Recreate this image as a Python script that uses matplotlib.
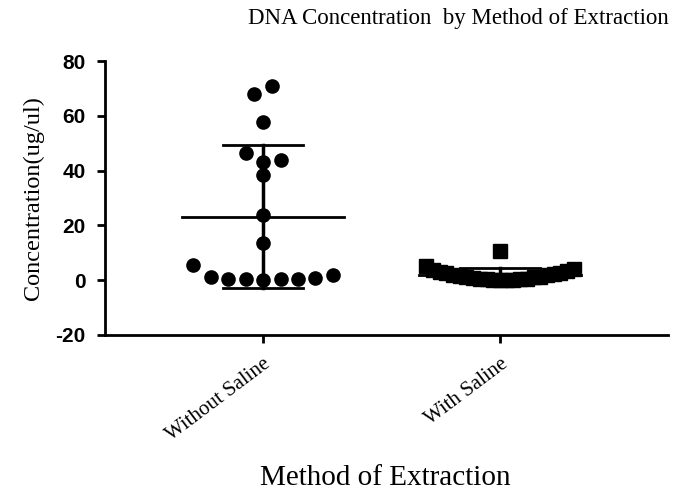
import numpy as np
import matplotlib
matplotlib.use("Agg")
import matplotlib.pyplot as plt

categories = ["Without Saline", "With Saline"]
without_saline = [70.7, 68.1, 57.9, 46.6, 43.0, 43.9, 38.4, 23.8, 13.6,
                  5.4, 1.3, 0.4, 0.3, 0.2, 0.3, 0.3, 0.7, 1.9]
with_saline = [10.5, 5.2, 4.0, 3.6, 3.0, 2.5, 2.2, 2.0, 1.8, 1.5, 1.3, 1.0,
               0.8, 0.6, 0.4, 0.3, 0.2, 0.1, 0.0, 0.0, 0.5, 1.2, 2.8, 3.3]
yticks = [-20, 0, 20, 40, 60, 80]

serif = ["Liberation Serif", "DejaVu Serif"]
sans = ["Liberation Sans", "DejaVu Sans"]


def row_offsets(values, binwidth, step):
    values = np.asarray(values, dtype=float)
    offs = np.zeros(len(values))
    bins = np.floor(values / binwidth).astype(int)
    for b in np.unique(bins):
        idx = np.where(bins == b)[0]
        idx = idx[np.argsort(values[idx], kind="stable")]
        n = len(idx)
        slots = []
        if n % 2 == 1:
            slots.append(0.0)
            k = 1
            while len(slots) < n:
                slots += [k, -k]
                k += 1
        else:
            k = 0.5
            while len(slots) < n:
                slots += [-k, k]
                k += 1
        for s, i in zip(slots[:n], idx):
            offs[i] = s * step
    return offs


fig = plt.figure(figsize=(6.79, 4.96), dpi=100)
ax = fig.add_axes([0.1546, 0.3246, 0.9838 - 0.1546, 0.877 - 0.3246])

groups = [without_saline, with_saline]
markers = ["o", "s"]
sizes = [9.5, 10.5]
steps = [0.0738, 0.0283]
for i, (vals, mk, ms, st) in enumerate(zip(groups, markers, sizes, steps)):
    vals = np.asarray(vals)
    xs = i + row_offsets(vals, 6.0, st)
    ax.plot(xs, vals, linestyle="none", marker=mk, markersize=ms,
            color="black", zorder=3)
    m = vals.mean()
    sd = vals.std(ddof=1)
    ax.plot([i - 0.34, i + 0.34], [m, m], color="black", lw=2, zorder=4)
    ax.plot([i - 0.17, i + 0.17], [m + sd, m + sd], color="black", lw=2, zorder=4)
    ax.plot([i - 0.17, i + 0.17], [m - sd, m - sd], color="black", lw=2, zorder=4)
    ax.plot([i, i], [m - sd, m + sd], color="black", lw=2.5, zorder=4)

ax.set_xlim(-0.667, 1.709)
ax.set_ylim(-20, 80)
ax.set_yticks(yticks)
ax.set_yticklabels([str(v) for v in yticks], fontfamily=sans, fontweight="bold",
                   fontsize=15)
ax.set_xticks(range(len(categories)))
ax.set_xticklabels(categories, fontfamily=serif, fontsize=15, rotation=37,
                   ha="right", rotation_mode="anchor")
for sp in ["top", "right"]:
    ax.spines[sp].set_visible(False)
for sp in ["left", "bottom"]:
    ax.spines[sp].set_linewidth(2)
ax.tick_params(axis="both", width=2, length=6, direction="out")
ax.tick_params(axis="y", pad=8)
ax.tick_params(axis="x", pad=8)

ax.set_ylabel("Concentration(ug/ul)", fontfamily=serif, fontsize=17.5, labelpad=8)
fig.text(0.5672, 0.036, "Method of Extraction", fontfamily=serif, fontsize=21,
         ha="center", va="center")
fig.text(0.6745, 0.963, "DNA Concentration  by Method of Extraction", fontfamily=serif,
         fontsize=16.5, ha="center", va="center")

fig.savefig("out.png", dpi=100)
